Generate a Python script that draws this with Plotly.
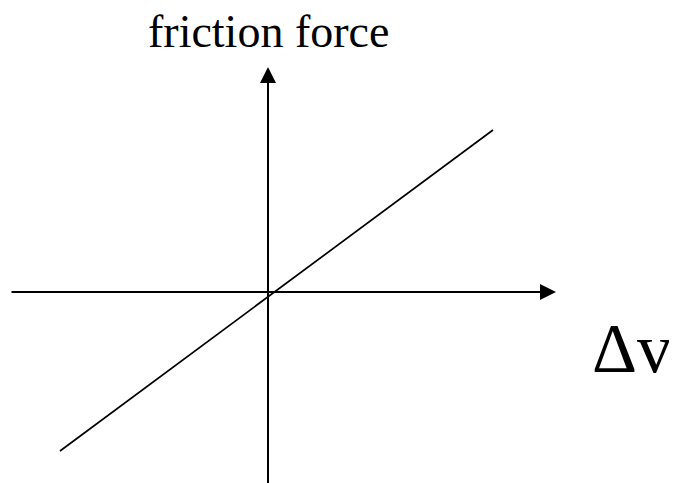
import plotly.graph_objects as go

# Schematic: friction force vs relative velocity (arbitrary units)
dv_line = [-2.08, 2.25]          # Δv values of the friction line ends
force_line = [-1.59, 1.62]       # friction force at those ends

h_axis_x = [-2.58, 2.88]         # horizontal (Δv) axis extent
v_axis_y = [-2.0, 2.25]          # vertical (force) axis extent

y_label = "friction force"
x_label = "Δv"

fig = go.Figure()

fig.add_trace(go.Scatter(
    x=dv_line, y=force_line, mode="lines",
    line=dict(color="black", width=1.7), hoverinfo="skip", showlegend=False))

# Axes with arrowheads
fig.add_annotation(x=h_axis_x[1], y=0, ax=h_axis_x[0], ay=0,
                   xref="x", yref="y", axref="x", ayref="y",
                   showarrow=True, arrowhead=2, arrowsize=1.6, arrowwidth=2,
                   arrowcolor="black", text="")
fig.add_annotation(x=0, y=v_axis_y[1], ax=0, ay=v_axis_y[0],
                   xref="x", yref="y", axref="x", ayref="y",
                   showarrow=True, arrowhead=2, arrowsize=1.6, arrowwidth=2,
                   arrowcolor="black", text="")

fig.add_annotation(x=0, y=2.61, xref="x", yref="y", text=y_label,
                   showarrow=False, xanchor="center", yanchor="middle",
                   borderpad=0,
                   font=dict(family="Liberation Serif", size=46, color="black"))
fig.add_annotation(x=3.64, y=-0.56, xref="x", yref="y", text=x_label,
                   showarrow=False, xanchor="center", yanchor="middle",
                   borderpad=0,
                   font=dict(family="Liberation Serif", size=70, color="black"))

fig.update_layout(
    width=677, height=483,
    margin=dict(l=0, r=0, t=0, b=0),
    paper_bgcolor="white", plot_bgcolor="white",
    xaxis=dict(range=[-2.60, 4.17], visible=False, fixedrange=True),
    yaxis=dict(range=[-1.99, 2.84], visible=False, fixedrange=True),
    showlegend=False,
)

fig.write_html("out.html")
